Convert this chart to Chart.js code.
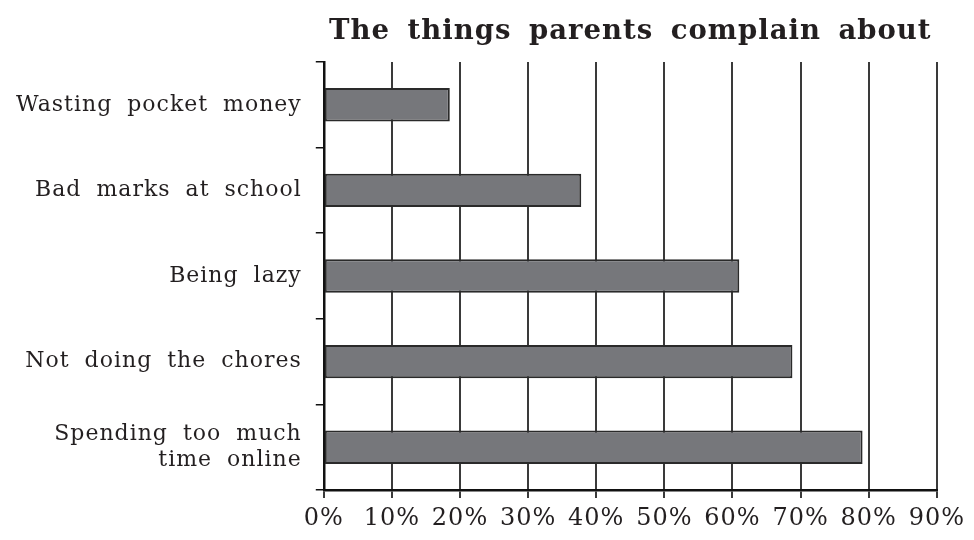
<!DOCTYPE html>
<html>
<head>
<meta charset="utf-8">
<script src="https://cdn.jsdelivr.net/npm/chart.js@4"></script>
<style>
  html, body { margin: 0; padding: 0; background: #fff; }
  #wrap { width: 974px; height: 540px; }
</style>
</head>
<body>
<div id="wrap"><canvas id="myChart"></canvas></div>
<script>
const canvas = document.getElementById('myChart')

// data
const complaints = [
    'Wasting pocket money',
    'Bad marks at school',
    'Being lazy',
    'Not doing the chores',
    ['Spending too much', 'time online']
]
const percentages = [18.5, 37.8, 61, 68.8, 79.1]
const xTicks = [0, 10, 20, 30, 40, 50, 60, 70, 80, 90]

const ink = '#231f20'
const serif = '"DejaVu Serif", "Liberation Serif", serif'

// wider letter spacing like the printed original
const spacing = {
    id: 'spacing',
    beforeLayout(chart) {
        chart.ctx.letterSpacing = '1px'
        chart.ctx.wordSpacing = '7px'
    },
    beforeDraw(chart) {
        chart.ctx.letterSpacing = '1px'
        chart.ctx.wordSpacing = '7px'
    }
}

const config = {
    type: 'bar',
    data: {
        labels: complaints,
        datasets: [{
            data: percentages,
            backgroundColor: '#76777b',
            borderColor: '#2a2a2a',
            borderWidth: 2,
            borderSkipped: false,
            barPercentage: 0.39,
            categoryPercentage: 1
        }]
    },
    options: {
        indexAxis: 'y',
        responsive: true,
        maintainAspectRatio: false,
        animation: false,
        layout: {
            padding: {left: 2, right: 14, top: 0, bottom: 0}
        },
        plugins: {
            legend: {display: false},
            tooltip: {enabled: false},
            title: {
                display: true,
                text: 'The things parents complain about',
                fullSize: false,
                color: ink,
                font: {family: serif, size: 27.5, weight: 'bold'},
                padding: {top: 15, bottom: 14}
            }
        },
        scales: {
            x: {
                min: 0,
                max: 90,
                afterBuildTicks: (axis) => {
                    axis.ticks = xTicks.map(v => ({value: v}))
                },
                grid: {
                    color: '#3a3a3a',
                    lineWidth: 2,
                    tickLength: 8
                },
                border: {display: true, color: '#111', width: 2.5},
                ticks: {
                    color: ink,
                    font: {family: serif, size: 24, lineHeight: 1},
                    padding: 9,
                    maxRotation: 0,
                    callback: v => v + '%'
                }
            },
            y: {
                grid: {
                    offset: true,
                    drawOnChartArea: false,
                    color: '#111',
                    lineWidth: 1.5,
                    tickLength: 8
                },
                border: {display: true, color: '#111', width: 2.5},
                ticks: {
                    color: ink,
                    font: {family: serif, size: 22, lineHeight: 1.15},
                    padding: 14
                }
            }
        }
    },
    plugins: [spacing]
}

const myChart = new Chart(canvas, config)
</script>
</body>
</html>
